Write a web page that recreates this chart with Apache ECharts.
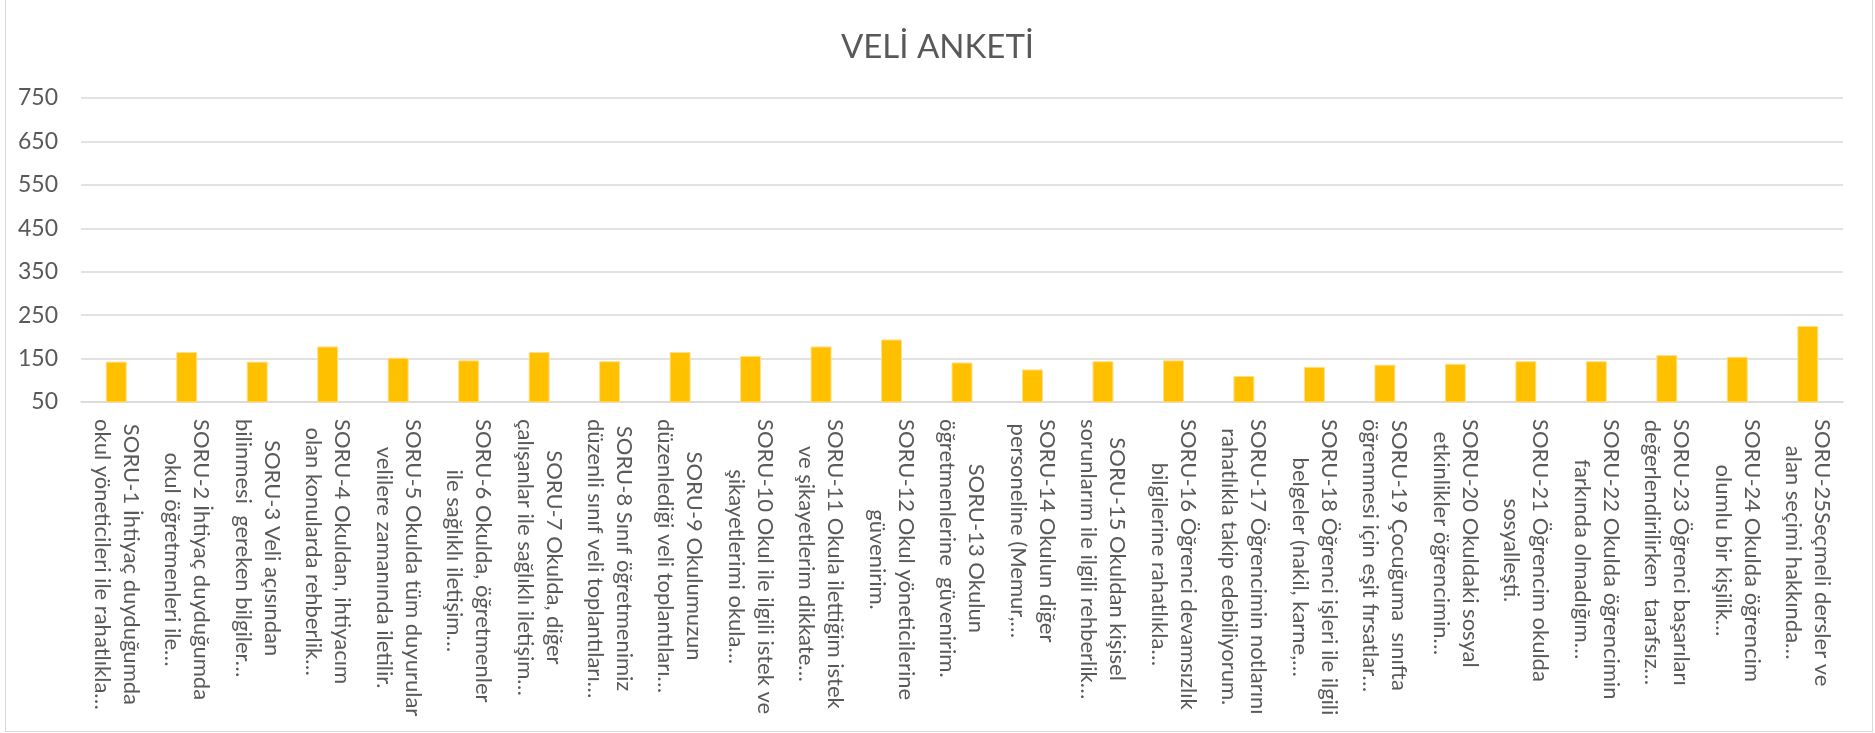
<!DOCTYPE html>
<html>
<head>
<meta charset="utf-8">
<title>VELİ ANKETİ</title>
<script src="https://cdn.jsdelivr.net/npm/echarts@6/dist/echarts.min.js"></script>
<style>
  html, body { margin: 0; padding: 0; background: #fff; }
  #frame {
    position: absolute; left: 5px; top: -1px; width: 1866px; height: 731px;
    border: 1px solid #d9d9d9;
  }
  #chart { position: absolute; left: 0; top: 0; width: 1875px; height: 733px; }
</style>
</head>
<body>
<div id="frame"></div>
<div id="chart"></div>
<script>
// soru etiketleri (iki satir)
const questions = [
  'SORU-1 İhtiyaç duyduğumda\nokul yöneticileri ile rahatlıkla…',
  'SORU-2 İhtiyaç duyduğumda\nokul öğretmenleri ile…',
  'SORU-3 Veli açısından\nbilinmesi  gereken bilgiler…',
  'SORU-4 Okuldan, ihtiyacım\nolan konularda rehberlik…',
  'SORU-5 Okulda tüm duyurular\nvelilere zamanında iletilir.',
  'SORU-6 Okulda, öğretmenler\nile sağlıklı iletişim…',
  'SORU-7 Okulda, diğer\nçalışanlar ile sağlıklı iletişim…',
  'SORU-8 Sınıf öğretmenimiz\ndüzenli sınıf veli toplantıları…',
  'SORU-9 Okulumuzun\ndüzenlediği veli toplantıları…',
  'SORU-10 Okul ile ilgili istek ve\nşikayetlerimi okula…',
  'SORU-11 Okula ilettiğim istek\nve şikayetlerim dikkate…',
  'SORU-12 Okul yöneticilerine\ngüvenirim.',
  'SORU-13 Okulun\nöğretmenlerine  güvenirim.',
  'SORU-14 Okulun diğer\npersoneline (Memur,…',
  'SORU-15 Okuldan kişisel\nsorunlarım ile ilgili rehberlik…',
  'SORU-16 Öğrenci devamsızlık\nbilgilerine rahatlıkla…',
  'SORU-17 Öğrencimin notlarını\nrahatlıkla takip edebiliyorum.',
  'SORU-18 Öğrenci işleri ile ilgili\nbelgeler (nakil, karne,…',
  'SORU-19 Çocuğuma  sınıfta\nöğrenmesi için eşit fırsatlar…',
  'SORU-20 Okuldaki sosyal\netkinlikler öğrencimin…',
  'SORU-21 Öğrencim okulda\nsosyalleşti.',
  'SORU-22 Okulda öğrencimin\nfarkında olmadığım…',
  'SORU-23 Öğrenci başarıları\ndeğerlendirilirken  tarafsız…',
  'SORU-24 Okulda öğrencim\nolumlu bir kişilik…',
  'SORU-25Seçmeli dersler ve\nalan seçimi hakkında…'
]

// toplam puanlar
const scores = [143, 165, 143, 178, 152, 146, 165, 144, 165, 156, 178, 194, 141, 125, 144, 146, 110, 131, 136, 138, 144, 144, 158, 154, 225]

// y ekseni
const yMin = 50
const yMax = 750
const yStep = 100

const textColor = '#595959'
const fontName = 'Lato, "Open Sans", sans-serif'

const chartInstance = echarts.init(document.getElementById('chart'), null, { renderer: 'canvas' })

const option = {
  animation: false,
  textStyle: { fontFamily: fontName },
  title: {
    text: 'VELİ ANKETİ',
    left: 'center',
    top: 26,
    textStyle: {
      color: textColor,
      fontSize: 33,
      fontWeight: 'normal',
      fontFamily: fontName
    }
  },
  grid: {
    left: 81,
    right: 32,
    top: 98,
    bottom: 331,
    containLabel: false
  },
  xAxis: {
    type: 'category',
    data: questions,
    axisLine: { lineStyle: { color: '#d9d9d9', width: 1.5 } },
    axisTick: { show: false },
    axisLabel: {
      interval: 0,
      rotate: -90,
      margin: 17,
      color: textColor,
      fontSize: 22,
      fontFamily: fontName,
      // satirlari kendi icinde ortala
      formatter: val => val.split('\n').map(l => '{c|' + l + '}').join('\n'),
      rich: {
        c: {
          align: 'center',
          color: textColor,
          fontSize: 22,
          lineHeight: 29,
          fontFamily: fontName
        }
      }
    }
  },
  yAxis: {
    type: 'value',
    min: yMin,
    max: yMax,
    interval: yStep,
    axisLine: { show: false },
    axisTick: { show: false },
    splitLine: { lineStyle: { color: '#d9d9d9', width: 1.5 } },
    axisLabel: {
      color: textColor,
      fontSize: 23,
      margin: 23,
      fontFamily: fontName
    }
  },
  series: [
    {
      name: 'VELİ ANKETİ',
      type: 'bar',
      data: scores,
      barWidth: 21,
      itemStyle: {
        color: '#FFC000',
        borderColor: '#ffe08c',
        borderWidth: 1
      }
    }
  ]
}

chartInstance.setOption(option)
</script>
</body>
</html>
